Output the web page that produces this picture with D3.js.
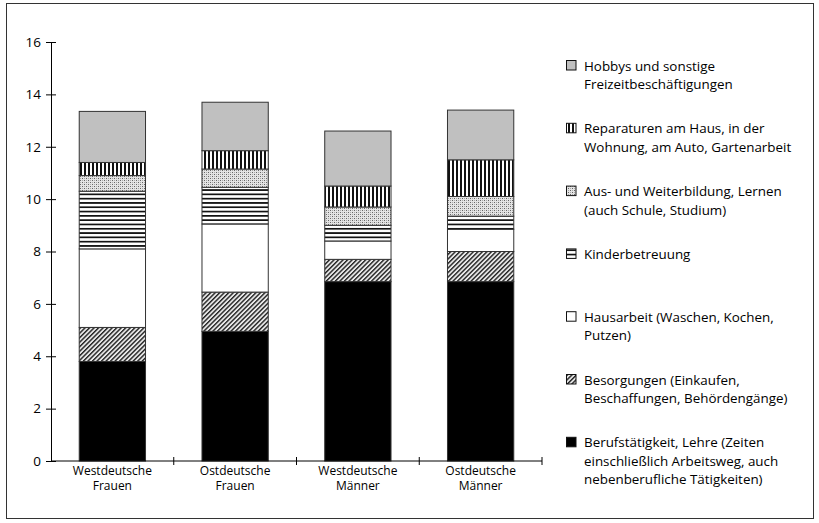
<!DOCTYPE html>
<html>
<head>
<meta charset="utf-8">
<script src="https://cdn.jsdelivr.net/npm/d3@7"></script>
<style>
  html, body { margin: 0; padding: 0; background: #fff; }
  svg { display: block; font-family: "Open Sans", "Noto Sans", sans-serif; }
</style>
</head>
<body>
<svg id="chart" width="819" height="523"></svg>
<script>
// ---- data ----
const categories = [
  ["Westdeutsche", "Frauen"],
  ["Ostdeutsche", "Frauen"],
  ["Westdeutsche", "Männer"],
  ["Ostdeutsche", "Männer"]
];
const seriesKeys = ["beruf", "besorg", "haus", "kinder", "aus", "rep", "hobby"];
const beruf  = [3.8, 4.95, 6.85, 6.85];
const besorg = [1.3, 1.5, 0.85, 1.15];
const haus   = [3.0, 2.6, 0.7, 0.85];
const kinder = [2.2, 1.4, 0.6, 0.5];
const aus    = [0.6, 0.7, 0.7, 0.75];
const rep    = [0.5, 0.7, 0.8, 1.4];
const hobby  = [1.95, 1.85, 2.1, 1.9];
const yTicks = [0, 2, 4, 6, 8, 10, 12, 14, 16];
// legend, top to bottom
const legendKeys = ["hobby", "rep", "aus", "kinder", "haus", "besorg", "beruf"];
const legendLabels = [
  ["Hobbys und sonstige", "Freizeitbeschäftigungen"],
  ["Reparaturen am Haus, in der", "Wohnung, am Auto, Gartenarbeit"],
  ["Aus- und Weiterbildung, Lernen", "(auch Schule, Studium)"],
  ["Kinderbetreuung"],
  ["Hausarbeit (Waschen, Kochen,", "Putzen)"],
  ["Besorgungen (Einkaufen,", "Beschaffungen, Behördengänge)"],
  ["Berufstätigkeit, Lehre (Zeiten", "einschließlich Arbeitsweg, auch", "nebenberufliche Tätigkeiten)"]
];

const values = { beruf, besorg, haus, kinder, aus, rep, hobby };
const table = categories.map((c, i) => {
  const row = { cat: c.join(" ") };
  seriesKeys.forEach(k => row[k] = values[k][i]);
  return row;
});

// ---- layout ----
const svg = d3.select("#chart");
const X0 = 51, X1 = 542, Y0 = 461, Y1 = 42;

// frame
svg.append("rect").attr("x", 6.5).attr("y", 3.5).attr("width", 807).attr("height", 515)
  .attr("fill", "none").attr("stroke", "#333").attr("stroke-width", 1);

// patterns
const defs = svg.append("defs");
function pat(id, w, h, build, transform) {
  const p = defs.append("pattern").attr("id", id).attr("patternUnits", "userSpaceOnUse")
    .attr("width", w).attr("height", h);
  if (transform) p.attr("patternTransform", transform);
  build(p);
}
pat("pVert", 4, 4, p => {
  p.append("rect").attr("width", 4).attr("height", 4).attr("fill", "#fff");
  p.append("rect").attr("x", 0).attr("width", 2).attr("height", 4).attr("fill", "#111");
});
pat("pHoriz", 4, 4.3, p => {
  p.append("rect").attr("width", 4).attr("height", 4.3).attr("fill", "#fff");
  p.append("rect").attr("y", 0).attr("width", 4).attr("height", 1.7).attr("fill", "#111");
});
pat("pDots", 4, 4, p => {
  p.append("rect").attr("width", 4).attr("height", 4).attr("fill", "#e4e4e4");
  p.append("rect").attr("x", 0).attr("y", 0).attr("width", 1).attr("height", 1).attr("fill", "#666");
  p.append("rect").attr("x", 2).attr("y", 2).attr("width", 1).attr("height", 1).attr("fill", "#666");
  p.append("rect").attr("x", 2).attr("y", 0).attr("width", 1).attr("height", 1).attr("fill", "#aaa");
  p.append("rect").attr("x", 0).attr("y", 2).attr("width", 1).attr("height", 1).attr("fill", "#aaa");
});
pat("pDiag", 3.2, 3.2, p => {
  p.append("rect").attr("width", 3.2).attr("height", 3.2).attr("fill", "#e8e8e8");
  p.append("rect").attr("x", 0).attr("width", 1.4).attr("height", 3.2).attr("fill", "#222");
}, "rotate(45)");

const fills = {
  beruf: "#000",
  besorg: "url(#pDiag)",
  haus: "#fff",
  kinder: "url(#pHoriz)",
  aus: "url(#pDots)",
  rep: "url(#pVert)",
  hobby: "#c0c0c0"
};

// scales
const x = d3.scaleBand().domain(table.map(d => d.cat)).range([X0, X1])
  .paddingInner(0.46).paddingOuter(0.23);
const y = d3.scaleLinear().domain([0, 16]).range([Y0, Y1]);

const stack = d3.stack().keys(seriesKeys)(table);

// bars
const g = svg.append("g");
stack.forEach(layer => {
  g.selectAll(null).data(layer).join("rect")
    .attr("x", d => x(d.data.cat))
    .attr("width", x.bandwidth())
    .attr("y", d => y(d[1]))
    .attr("height", d => y(d[0]) - y(d[1]))
    .attr("fill", fills[layer.key])
    .attr("stroke", "#333")
    .attr("stroke-width", 1);
});

// y axis
const yAxis = d3.axisLeft(y).tickValues(yTicks).tickSizeInner(5).tickSizeOuter(0).tickPadding(6);
const ya = svg.append("g").attr("transform", `translate(${X0},0)`).call(yAxis);
ya.select(".domain").attr("stroke", "#000");
ya.selectAll(".tick line").attr("x2", 5).attr("x1", -5).attr("stroke", "#000");
ya.selectAll(".tick text").attr("font-size", 13.5).attr("fill", "#000")
  .attr("font-family", "'Open Sans', sans-serif").attr("x", -10);

// x axis
const xa = svg.append("g").attr("transform", `translate(0,${Y0})`);
xa.append("line").attr("x1", X0).attr("x2", X1).attr("stroke", "#000");
const step = x.step();
table.forEach(d => {
  const bx = x(d.cat) - step * x.paddingInner() / 2 + step;
  xa.append("line").attr("x1", bx).attr("x2", bx).attr("y1", -4).attr("y2", 4).attr("stroke", "#000");
});
categories.forEach((c, i) => {
  const cx = x(table[i].cat) + x.bandwidth() / 2;
  const t = xa.append("text").attr("text-anchor", "middle").attr("font-size", 12).attr("fill", "#000");
  c.forEach((line, j) => {
    t.append("tspan").attr("x", cx).attr("y", 13.5 + j * 15.5).text(line);
  });
});

// legend
const lg = svg.append("g");
legendKeys.forEach((k, i) => {
  const y0 = 66 + i * 62.8;
  lg.append("rect").attr("x", 566.5).attr("y", y0 - 5.5).attr("width", 9.5).attr("height", 9.5)
    .attr("fill", fills[k]).attr("stroke", "#111").attr("stroke-width", 1);
  const t = lg.append("text").attr("font-size", 13.4).attr("fill", "#000");
  legendLabels[i].forEach((line, j) => {
    t.append("tspan").attr("x", 584).attr("y", y0 + 4.6 + j * 18.5).text(line);
  });
});
</script>
</body>
</html>
